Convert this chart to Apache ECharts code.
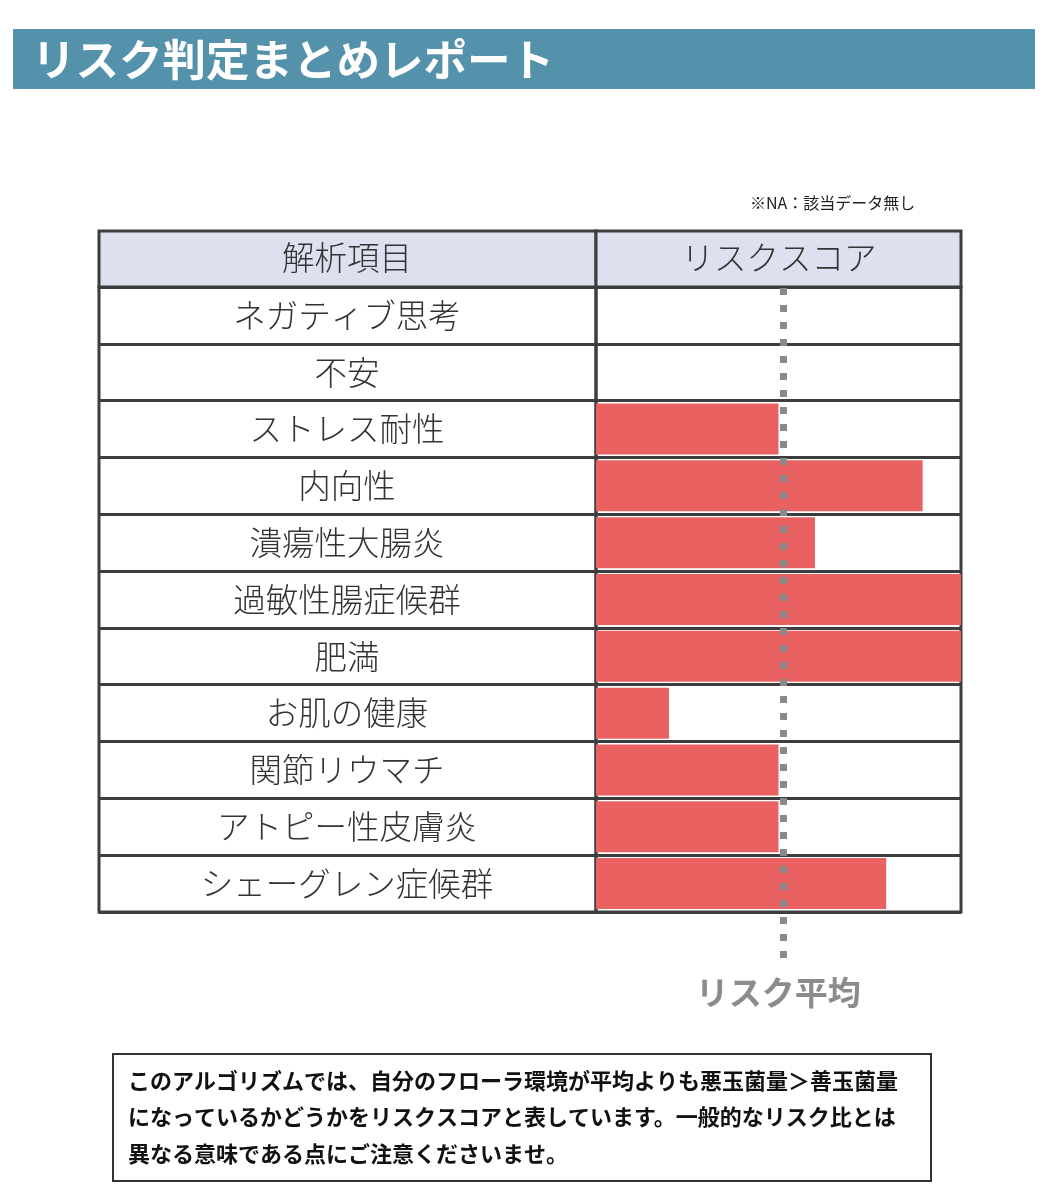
<!DOCTYPE html>
<html>
<head>
<meta charset="utf-8">
<title>リスク判定まとめレポート</title>
<script src="https://cdn.jsdelivr.net/npm/echarts@6/dist/echarts.min.js"></script>
<style>
    html, body { margin: 0; padding: 0; background: #fff; }
    #riskChart { width: 1045px; height: 1200px; }
</style>
</head>
<body>
<div id="riskChart"></div>
<script>
// 解析項目とリスクスコア（NA は null）
let categories = ['ネガティブ思考', '不安', 'ストレス耐性', '内向性', '潰瘍性大腸炎', '過敏性腸症候群',
    '肥満', 'お肌の健康', '関節リウマチ', 'アトピー性皮膚炎', 'シェーグレン症候群'];
let scores = [null, null, 50, 89.5, 60, 100, 100, 20, 50, 50, 79.5];
let avgScore = 51.3;
let scoreMax = 100;

let headers = ['解析項目', 'リスクスコア'];
let noteLines = [
    'このアルゴリズムでは、自分のフローラ環境が平均よりも悪玉菌量＞善玉菌量',
    'になっているかどうかをリスクスコアと表しています。一般的なリスク比とは',
    '異なる意味である点にご注意くださいませ。'
];

let font = '"Noto Sans CJK JP", "Noto Sans", sans-serif';
let lineColor = '#3d3d3d';

let riskChart = echarts.init(document.getElementById('riskChart'));

let option = {
    backgroundColor: '#ffffff',
    textStyle: { fontFamily: font },
    animation: false,
    grid: [
        // 左列（解析項目）
        { left: 99, width: 497, top: 287, bottom: 288, show: true, borderColor: lineColor, borderWidth: 3 },
        // 右列（リスクスコア）
        { left: 596, right: 84, top: 287, bottom: 288, show: true, borderColor: lineColor, borderWidth: 3 },
        // 平均線用（表の下まで伸ばす）
        { left: 596, right: 84, top: 287, bottom: 242 }
    ],
    xAxis: [
        { gridIndex: 0, type: 'value', show: false, min: 0, max: 1 },
        { gridIndex: 1, type: 'value', show: false, min: 0, max: scoreMax },
        { gridIndex: 2, type: 'value', show: false, min: 0, max: scoreMax }
    ],
    yAxis: [
        {
            gridIndex: 0, type: 'category', data: categories, inverse: true,
            axisLine: { show: false }, axisTick: { show: false }, axisLabel: { show: false },
            splitLine: { show: true, lineStyle: { color: lineColor, width: 3 } }
        },
        {
            gridIndex: 1, type: 'category', data: categories, inverse: true,
            axisLine: { show: false }, axisTick: { show: false },
            axisLabel: {
                margin: 249,
                align: 'center',
                color: '#333333',
                fontSize: 32.5,
                fontWeight: 300,
                fontFamily: font
            },
            splitLine: { show: true, lineStyle: { color: lineColor, width: 3 } }
        },
        { gridIndex: 2, type: 'value', show: false, min: 0, max: 1 }
    ],
    series: [
        {
            name: 'リスクスコア',
            type: 'bar',
            xAxisIndex: 1,
            yAxisIndex: 1,
            data: scores,
            barWidth: 51,
            itemStyle: { color: '#ea6161' },
            z: 3
        },
        {
            name: 'リスク平均',
            type: 'line',
            xAxisIndex: 2,
            yAxisIndex: 2,
            data: [],
            z: 10,
            markLine: {
                silent: true,
                symbol: 'none',
                lineStyle: { color: '#8a8a8a', width: 7, type: [7, 10], cap: 'butt' },
                label: {
                    show: true,
                    position: 'start',
                    formatter: 'リスク平均',
                    distance: 18,
                    offset: [-5, 0],
                    color: '#8c8c8c',
                    fontSize: 33,
                    fontWeight: 'bold',
                    fontFamily: font
                },
                data: [{ xAxis: avgScore }]
            }
        }
    ],
    graphic: [
        // タイトル帯
        { type: 'rect', shape: { x: 13, y: 29, width: 1022, height: 60 }, style: { fill: '#5492ab' } },
        {
            type: 'text', x: 32, y: 59, z: 5,
            style: { text: 'リスク判定まとめレポート', fill: '#ffffff', font: 'bold 43.5px ' + font, verticalAlign: 'middle' }
        },
        {
            type: 'text', x: 750, y: 203,
            style: { text: '※NA：該当データ無し', fill: '#222222', font: '16px ' + font, verticalAlign: 'middle' }
        },
        // ヘッダー行
        {
            type: 'rect', shape: { x: 99, y: 231, width: 497, height: 56 },
            style: { fill: '#dce0ef', stroke: lineColor, lineWidth: 3 }
        },
        {
            type: 'rect', shape: { x: 596, y: 231, width: 365, height: 56 },
            style: { fill: '#dce0ef', stroke: lineColor, lineWidth: 3 }
        },
        {
            type: 'text', x: 347, y: 258,
            style: { text: headers[0], fill: '#333333', font: '300 32.5px ' + font, align: 'center', verticalAlign: 'middle' }
        },
        {
            type: 'text', x: 779, y: 258,
            style: { text: headers[1], fill: '#333333', font: '300 32.5px ' + font, align: 'center', verticalAlign: 'middle' }
        },
        // 注意書き
        {
            type: 'rect', shape: { x: 113, y: 1054, width: 818, height: 127 },
            style: { fill: '#ffffff', stroke: '#333333', lineWidth: 2 }
        },
        {
            type: 'text', x: 128, y: 1062,
            style: { text: noteLines.join('\n'), fill: '#111111', font: 'bold 22px ' + font, lineHeight: 36.5 }
        }
    ]
};

riskChart.setOption(option);
window.addEventListener('resize', function () { riskChart.resize(); });
</script>
</body>
</html>
